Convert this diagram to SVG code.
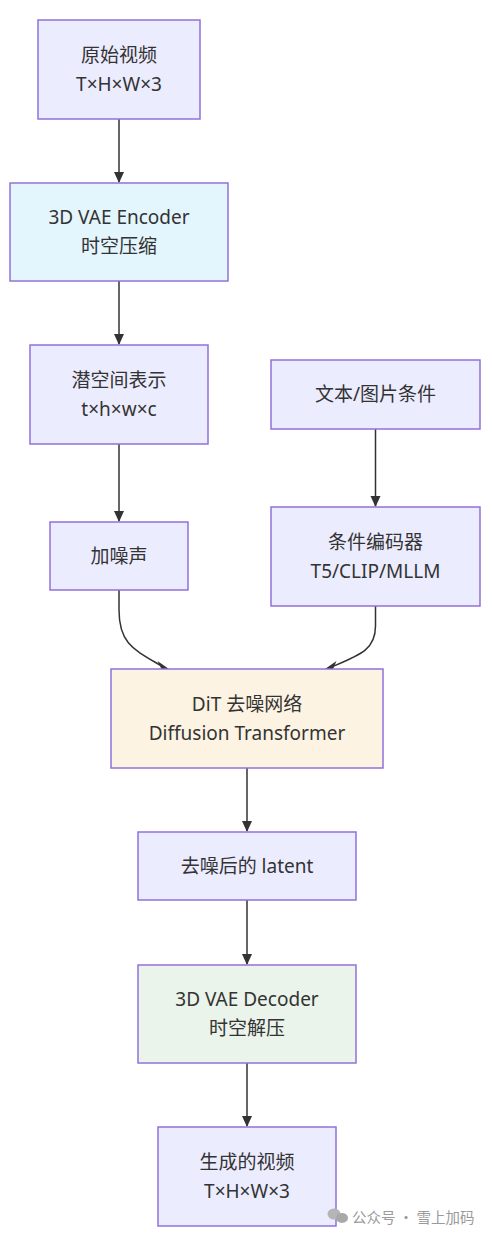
<svg xmlns="http://www.w3.org/2000/svg" width="492" height="1238" viewBox="0 0 492 1238">
<style>
.node rect{fill:#ECECFF;stroke:#9370DB;stroke-width:1.5}
.node text{font-family:"Noto Sans","Noto Sans CJK SC",sans-serif;font-size:19px;fill:#333333;text-anchor:middle;dominant-baseline:central}
.enc rect{fill:#E3F5FD}
.dit rect{fill:#FDF3E3}
.dec rect{fill:#EAF4EA}
.edges path{fill:none;stroke:#333333;stroke-width:1.5}
.heads{fill:#333333;stroke:none}
.wm{font-family:"Noto Sans CJK SC",sans-serif;font-size:14.5px;fill:#9a9a9a}
</style>
<rect width="492" height="1238" fill="#ffffff"/>
<g class="edges">
<path d="M119,119 V182"/>
<path d="M119,281 V344"/>
<path d="M119,444 V521"/>
<path d="M375.5,429 V506"/>
<path d="M119,590 L119,610 C119,645 135,650 165,668"/>
<path d="M375.5,606 L375.5,626 C375.5,650 360,655 329,668"/>
<path d="M247,768 V831"/>
<path d="M247,900 V964"/>
<path d="M247,1063 V1126"/>
<g class="heads">
<polygon points="114,172 124,172 119,183"/>
<polygon points="114,334 124,334 119,345"/>
<polygon points="114,511 124,511 119,522"/>
<polygon points="370.5,496 380.5,496 375.5,507"/>
<polygon points="157.5,661 161.5,669 169,669"/>
<polygon points="336.5,661 325,669 333,669"/>
<polygon points="242,821 252,821 247,832"/>
<polygon points="242,954 252,954 247,965"/>
<polygon points="242,1116 252,1116 247,1127"/>
</g>
</g>
<g id="n1" class="node"><rect x="38" y="20" width="162" height="99"/><text x="119" y="55">原始视频</text><text x="119" y="84">T×H×W×3</text></g>
<g id="n2" class="node enc"><rect x="10" y="183" width="218" height="98"/><text x="119" y="217">3D VAE Encoder</text><text x="119" y="246">时空压缩</text></g>
<g id="n3" class="node"><rect x="30" y="345" width="178" height="99"/><text x="119" y="380">潜空间表示</text><text x="119" y="409">t×h×w×c</text></g>
<g id="n4" class="node"><rect x="50" y="522" width="138" height="68"/><text x="119" y="556">加噪声</text></g>
<g id="n5" class="node"><rect x="271" y="360" width="209" height="69"/><text x="375.5" y="394">文本/图片条件</text></g>
<g id="n6" class="node"><rect x="271" y="507" width="209" height="99"/><text x="375.5" y="542">条件编码器</text><text x="375.5" y="571">T5/CLIP/MLLM</text></g>
<g id="n7" class="node dit"><rect x="111" y="669" width="272" height="99"/><text x="247" y="704">DiT 去噪网络</text><text x="247" y="733">Diffusion Transformer</text></g>
<g id="n8" class="node"><rect x="138" y="832" width="218" height="68"/><text x="247" y="866">去噪后的 latent</text></g>
<g id="n9" class="node dec"><rect x="138" y="965" width="218" height="98"/><text x="247" y="999">3D VAE Decoder</text><text x="247" y="1028">时空解压</text></g>
<g id="n10" class="node"><rect x="158" y="1127" width="178" height="99"/><text x="247" y="1162">生成的视频</text><text x="247" y="1191">T×H×W×3</text></g>
<g id="watermark">
<ellipse cx="334" cy="1214" rx="6.5" ry="5.5" fill="#b5b5b5"/>
<ellipse cx="342" cy="1218" rx="6" ry="5" fill="#a8a8a8"/>
<text class="wm" x="352" y="1223">公众号 · 雪上加码</text>
</g>
</svg>
